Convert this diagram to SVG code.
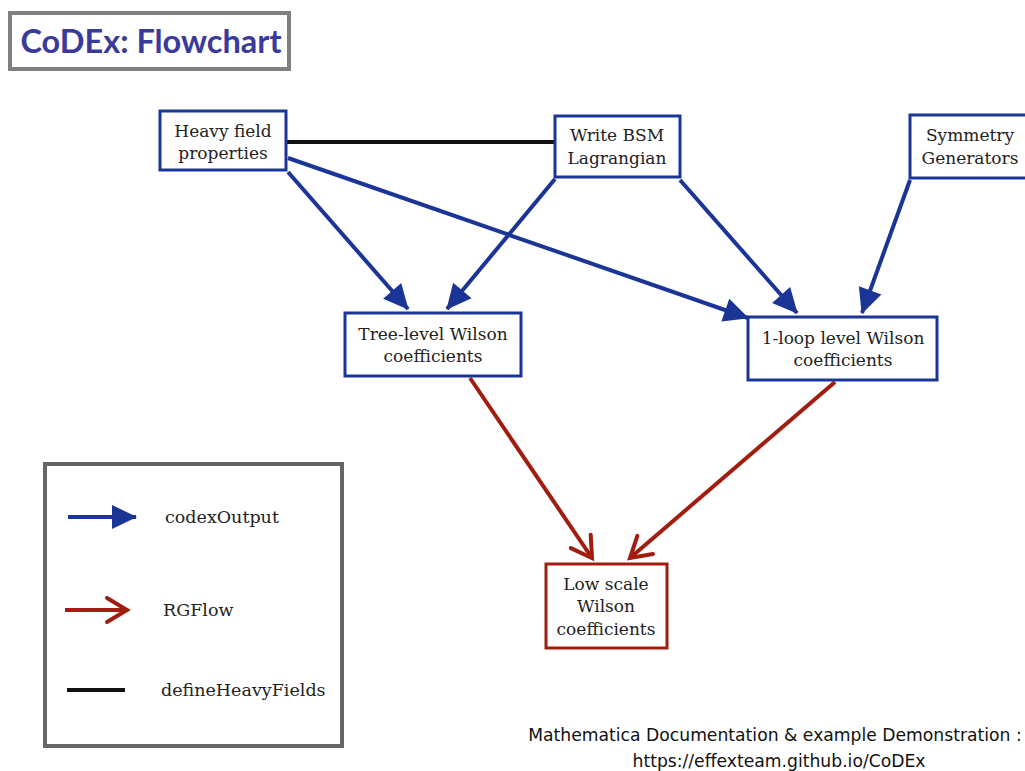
<svg xmlns="http://www.w3.org/2000/svg" width="1025" height="771" viewBox="0 0 1025 771">
<style>
.node rect{fill:#fff;stroke:#1b3597;stroke-width:3}
.node.rnode rect{stroke:#a01d10}
.t{font-family:"DejaVu Serif","Liberation Serif",serif;font-size:17px;fill:#222;text-anchor:middle}
.lg{font-family:"DejaVu Serif","Liberation Serif",serif;font-size:17.5px;fill:#222}
.blue{stroke:#1b3597;stroke-width:4;fill:none;marker-end:url(#ab)}
.redc{stroke:#a01d10;stroke-width:4;fill:none;marker-end:url(#ar)}
.blk{stroke:#111;stroke-width:4;fill:none}
.foot{font-family:"DejaVu Sans","Liberation Sans",sans-serif;font-size:17.2px;fill:#111;text-anchor:middle}
</style>
<defs>
<marker id="ab" markerUnits="userSpaceOnUse" markerWidth="30" markerHeight="30" viewBox="0 0 30 30" refX="26" refY="15" orient="auto">
<path d="M2,3 L27,15 L2,27 Z" fill="#1b3597"/>
</marker>
<marker id="ar" markerUnits="userSpaceOnUse" markerWidth="30" markerHeight="30" viewBox="0 0 30 30" refX="26" refY="15" orient="auto">
<path d="M6,3 L26,15 L6,27" fill="none" stroke="#a01d10" stroke-width="4" stroke-linecap="round"/>
</marker>
</defs>
<rect width="1025" height="771" fill="#fff"/>
<g id="title">
<rect x="10" y="13" width="279" height="56" fill="#fff" stroke="#808080" stroke-width="4"/>
<text x="151" y="53" font-family="Lato,'DejaVu Sans',sans-serif" font-weight="bold" font-size="32.5" fill="#3a3a9c" text-anchor="middle">CoDEx: Flowchart</text>
</g>
<g id="connectors">
<line class="blk" x1="287" y1="142" x2="555" y2="142"/>
<line class="blue" x1="288" y1="172" x2="408" y2="309"/>
<line class="blue" x1="288" y1="158" x2="748" y2="318"/>
<line class="blue" x1="555" y1="179" x2="447" y2="309"/>
<line class="blue" x1="680" y1="180" x2="797" y2="313"/>
<line class="blue" x1="910" y1="180" x2="862" y2="313"/>
<line class="redc" x1="470" y1="378" x2="592" y2="558"/>
<line class="redc" x1="835" y1="382" x2="630" y2="558"/>
</g>
<g id="heavy" class="node">
<rect x="160" y="111" width="126" height="59"/>
<text class="t" x="223" y="137">Heavy field</text>
<text class="t" x="223" y="159">properties</text>
</g>
<g id="bsm" class="node">
<rect x="555" y="116" width="125" height="61"/>
<text class="t" x="617" y="141">Write BSM</text>
<text class="t" x="617" y="164">Lagrangian</text>
</g>
<g id="sym" class="node">
<rect x="910" y="115" width="120" height="63"/>
<text class="t" x="970" y="141">Symmetry</text>
<text class="t" x="970" y="164">Generators</text>
</g>
<g id="tree" class="node">
<rect x="345" y="313" width="176" height="63"/>
<text class="t" x="433" y="340">Tree-level Wilson</text>
<text class="t" x="433" y="362">coefficients</text>
</g>
<g id="loop" class="node">
<rect x="748" y="317" width="189" height="63"/>
<text class="t" x="843" y="344">1-loop level Wilson</text>
<text class="t" x="843" y="366">coefficients</text>
</g>
<g id="low" class="node rnode">
<rect x="546" y="564" width="121" height="84"/>
<text class="t" x="606" y="590">Low scale</text>
<text class="t" x="606" y="612">Wilson</text>
<text class="t" x="606" y="635">coefficients</text>
</g>
<g id="legend">
<rect x="45" y="464" width="297" height="282" fill="#fff" stroke="#666" stroke-width="4"/>
<line class="blue" x1="68" y1="517" x2="136" y2="517"/>
<text class="lg" x="165" y="523">codexOutput</text>
<line class="redc" x1="65" y1="610" x2="127" y2="610"/>
<text class="lg" x="163" y="616">RGFlow</text>
<line class="blk" x1="67" y1="690" x2="125" y2="690"/>
<text class="lg" x="161" y="696">defineHeavyFields</text>
</g>
<g id="footer">
<text class="foot" x="775" y="741">Mathematica Documentation &amp; example Demonstration :</text>
<text class="foot" x="779" y="767">https://effexteam.github.io/CoDEx</text>
</g>
</svg>
